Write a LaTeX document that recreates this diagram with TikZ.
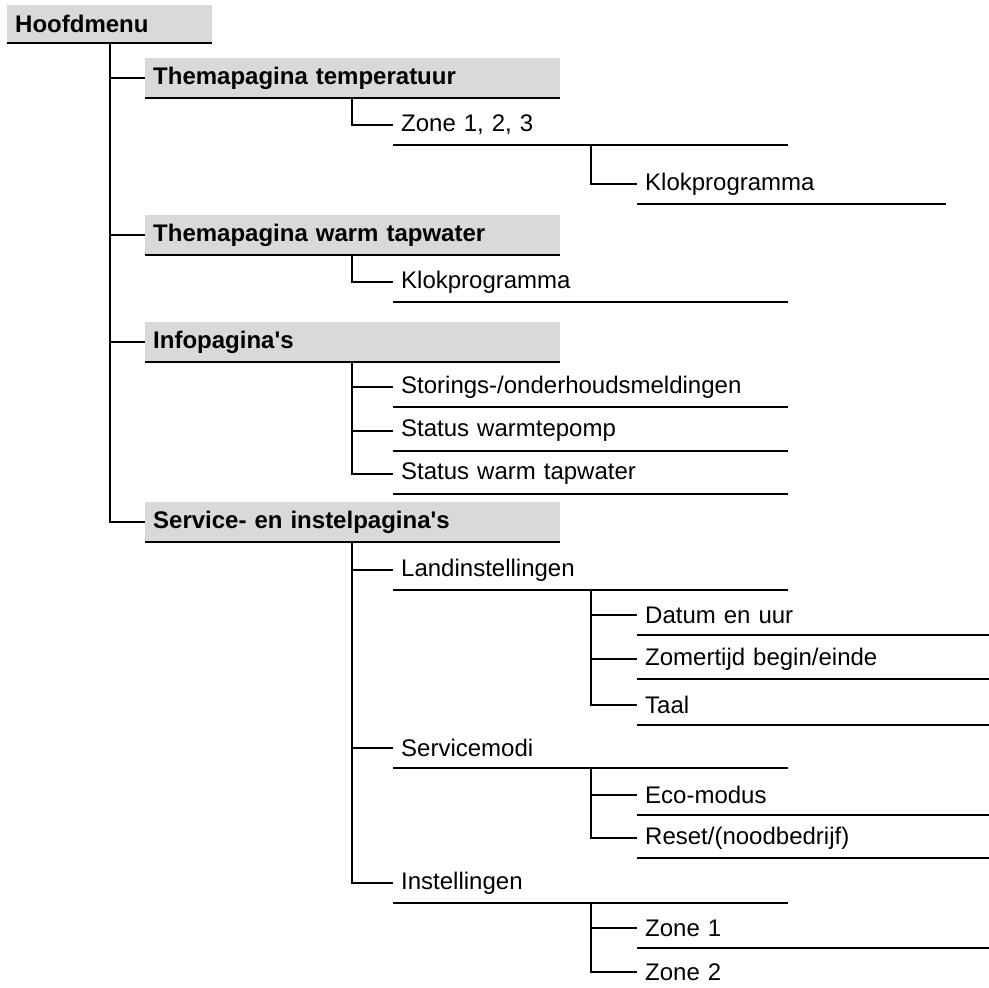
\documentclass[tikz,border=0pt]{standalone}
\usepackage{fontspec}
\setmainfont{Liberation Sans}
\usepackage{tikz}
\usepackage{xcolor}

\definecolor{menugray}{RGB}{217,217,217}
\newcommand{\menufont}{\fontsize{24}{28}\selectfont}

\tikzset{
  menu/.style={anchor=west, inner xsep=8pt, inner ysep=0pt, minimum height=40pt, align=left, font=\menufont},
  hoofdbox/.style={menu, fill=menugray, font=\menufont\bfseries, text width=189pt, minimum height=38pt},
  themabox/.style={menu, fill=menugray, font=\menufont\bfseries, text width=399pt},
  subitem/.style={menu, text width=379pt},
  subsubitem/.style={menu, text width=336pt},
  branch/.style={line width=1.8pt},
  underline/.style={line width=1.5pt},
  boxline/.style={line width=2.4pt},
}

\begin{document}
\begin{tikzpicture}[x=1pt, y=-1pt]
    \useasboundingbox (0,0) rectangle (989,988);
    % -------------------------
    % Hoofdmenu
    % -------------------------
    \node[hoofdbox] (hoofd) at (7,24) {Hoofdmenu};

    % -------------------------
    % Themapagina's (grey boxes)
    % -------------------------
    \node[themabox] (temp) at (145,78) {Themapagina temperatuur};
    \node[themabox] (warm) at (145,235) {Themapagina warm tapwater};
    \node[themabox] (info) at (145,342) {Infopagina\textquotesingle s};
    \node[themabox] (serv) at (145,522) {Service- en instelpagina\textquotesingle s};

    % -------------------------
    % Second level
    % -------------------------
    \node[subitem] (zone) at (393,125) {Zone 1, 2, 3};
    \node[subitem] (klokw) at (393,282) {Klokprogramma};
    \node[subitem] (stor) at (393,387) {Storings-/onderhoudsmeldingen};
    \node[subitem] (wpomp) at (393,431) {Status warmtepomp};
    \node[subitem] (wtap) at (393,474) {Status warm tapwater};
    \node[subitem] (land) at (393,570) {Landinstellingen};
    \node[subitem] (smodi) at (393,748) {Servicemodi};
    \node[subitem] (inst) at (393,883) {Instellingen};

    % -------------------------
    % Third level
    % -------------------------
    \node[subsubitem, text width=293pt] (klokz) at (637,184) {Klokprogramma};
    \node[subsubitem] (datum) at (637,615) {Datum en uur};
    \node[subsubitem] (zomer) at (637,659) {Zomertijd begin/einde};
    \node[subsubitem] (taal) at (637,705) {Taal};
    \node[subsubitem] (eco) at (637,795) {Eco-modus};
    \node[subsubitem] (reset) at (637,838) {Reset/(noodbedrijf)};
    \node[subsubitem] (zeen) at (637,928) {Zone 1};
    \node[subsubitem] (ztwee) at (637,972) {Zone 2};

    % Lines under the boxes and items
    \foreach \n in {hoofd,temp,warm,info,serv}
        \draw[boxline] (\n.south west) -- (\n.south east);
    \foreach \n in {zone,klokw,stor,wpomp,wtap,land,smodi,inst,klokz,datum,zomer,taal,eco,reset,zeen}
        \draw[underline] (\n.south west) -- (\n.south east);

    % Branches
    \foreach \n in {temp,warm,info,serv}
        \draw[branch] (hoofd.south west) ++(103,0) |- (\n.west);
    \draw[branch] (temp.south west) ++(207,0) |- (zone.west);
    \draw[branch] (warm.south west) ++(207,0) |- (klokw.west);
    \foreach \n in {stor,wpomp,wtap}
        \draw[branch] (info.south west) ++(207,0) |- (\n.west);
    \foreach \n in {land,smodi,inst}
        \draw[branch] (serv.south west) ++(207,0) |- (\n.west);
    \draw[branch] (zone.south west) ++(198,0) |- (klokz.west);
    \foreach \n in {datum,zomer,taal}
        \draw[branch] (land.south west) ++(198,0) |- (\n.west);
    \foreach \n in {eco,reset}
        \draw[branch] (smodi.south west) ++(198,0) |- (\n.west);
    \foreach \n in {zeen,ztwee}
        \draw[branch] (inst.south west) ++(198,0) |- (\n.west);
\end{tikzpicture}
\end{document}
